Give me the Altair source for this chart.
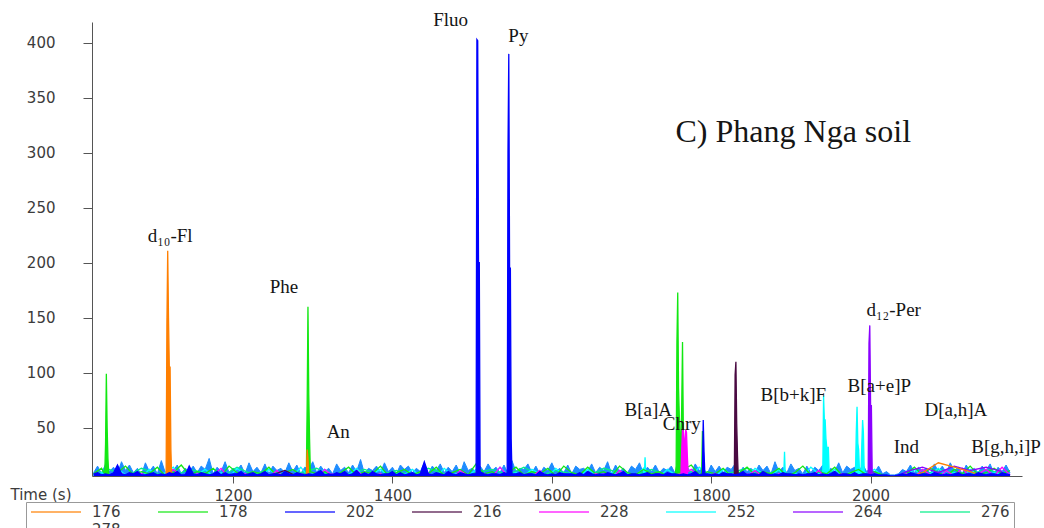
import altair as alt
import pandas as pd

# ---------------- data ----------------
ION_LABELS = ["176", "178", "202", "216", "228", "252", "264", "276", "278"]
ION_COLORS = ["#FF7F00", "#12E812", "#0000FF", "#4A0A42", "#FF00FF",
              "#00FFFF", "#8A00FF", "#00F088", "#1E8CFF"]
BAND_BACK = "278"
BAND_FRONT = "202"
MINOR_ORDER = ["276", "252", "178", "228", "264", "216", "176"]

NOISE_START = 1025

# baseline noise, one value every 5 s
noise_278 = [
    9, 15, 8, 17, 10, 14, 8, 19, 11, 16, 9, 13, 7, 18, 10, 15, 8, 20, 9, 14,
    11, 16, 8, 13, 10, 15, 9, 15, 12, 22, 8, 14, 10, 19, 9, 13, 11, 16, 8, 18,
    10, 14, 9, 17, 8, 15, 11, 13, 9, 18, 10, 16, 8, 14, 12, 19, 9, 15, 10, 13,
    8, 17, 11, 14, 9, 16, 10, 21, 8, 13, 11, 15, 9, 18, 10, 14, 8, 16, 12, 15,
    9, 13, 10, 18, 8, 15, 11, 17, 9, 14, 10, 16, 8, 19, 11, 13, 9, 15, 10, 17,
    11, 14, 9, 16, 8, 20, 10, 13, 12, 17, 9, 15, 8, 14, 11, 18, 10, 13, 9, 16,
    8, 15, 12, 13, 10, 17, 9, 14, 11, 19, 8, 16, 10, 13, 9, 15, 12, 18, 8, 14,
    10, 16, 9, 13, 11, 15, 8, 18, 10, 14, 9, 17, 11, 13, 8, 16, 10, 15, 9, 14,
    12, 17, 8, 14, 10, 13, 9, 16, 11, 15, 8, 19, 10, 14, 9, 17, 11, 13, 8, 15,
    9, 14, 11, 16, 8, 13, 10, 18, 9, 15, 12, 14, 8, 17, 10, 13, 9, 15, 8, 10,
    7, 7, 8, 12, 10, 16, 9, 14, 11, 13, 8, 17, 10, 15, 9, 18, 11, 14, 8, 16,
    10, 13, 9, 15, 11, 17, 8, 14, 10, 16, 9,
]
noise_202 = [
    8, 9, 7, 8, 7, 9, 16, 8, 7, 9, 8, 10, 7, 7, 8, 9, 7, 8, 7, 9,
    8, 10, 7, 7, 15, 8, 7, 9, 8, 7, 8, 10, 7, 9, 7, 8, 8, 10, 7, 8,
    9, 7, 8, 10, 7, 8, 8, 7, 10, 8, 7, 9, 8, 7, 8, 7, 9, 11, 7, 8,
    7, 9, 8, 10, 7, 8, 11, 7, 9, 7, 10, 8, 7, 8, 8, 10, 7, 9, 7, 8,
    9, 7, 8, 19, 8, 7, 9, 8, 7, 10, 8, 7, 9, 8, 7, 8, 7, 10, 8, 7,
    8, 8, 7, 9, 7, 10, 8, 9, 7, 8, 8, 7, 10, 8, 7, 8, 7, 9, 8, 8,
    8, 7, 9, 7, 10, 8, 7, 8, 7, 9, 8, 7, 8, 10, 7, 8, 8, 7, 8, 9,
    7, 8, 8, 7, 9, 8, 8, 7, 8, 7, 8, 10, 7, 8, 8, 7, 8, 7, 9, 8,
    8, 7, 8, 10, 7, 8, 8, 7, 10, 8, 7, 8, 7, 9, 8, 8, 7, 8, 7, 8,
    8, 9, 7, 8, 7, 8, 10, 7, 8, 8, 7, 9, 7, 8, 8, 7, 8, 7, 7, 7,
    6, 6, 7, 8, 7, 9, 8, 7, 8, 8, 7, 9, 8, 7, 8, 7, 8, 9, 7, 8,
    8, 7, 9, 8, 7, 8, 8, 7, 9, 8, 7,
]
# one value every 10 s
noise_178 = [
    8, 13, 6, 9, 15, 7, 10, 8, 14, 6, 9, 16, 7, 10, 8, 13, 6, 15, 9, 7,
    10, 8, 14, 6, 9, 12, 7, 16, 8, 10, 6, 9, 14, 7, 10, 8, 15, 6, 9, 12,
    7, 10, 8, 14, 6, 9, 12, 7, 17, 8, 10, 6, 9, 14, 7, 10, 8, 13, 6, 15,
    9, 7, 14, 8, 10, 6, 15, 9, 7, 12, 8, 10, 6, 14, 9, 16, 7, 10, 8, 13,
    6, 9, 14, 7, 10, 8, 13, 6, 9, 15, 7, 10, 8, 14, 6, 9, 12, 7, 10, 7,
    5, 5, 8, 14, 7, 13, 9, 6, 12, 8, 15, 7, 9, 13, 8, 11,
]
noise_252 = [
    6, 9, 5, 13, 7, 8, 5, 12, 6, 9, 14, 5, 8, 7, 12, 6, 9, 5, 13, 7,
    8, 5, 12, 7, 9, 6, 14, 5, 8, 12, 6, 9, 7, 13, 5, 8, 12, 6, 9, 7,
    12, 6, 8, 5, 13, 7, 9, 6, 12, 8, 5, 14, 7, 9, 6, 12, 8, 5, 13, 7,
    9, 6, 12, 8, 5, 9, 7, 9, 6, 13, 8, 5, 12, 7, 9, 6, 14, 8, 5, 12,
    7, 9, 5, 13, 8, 6, 12, 7, 9, 5, 14, 8, 6, 12, 7, 9, 5, 8, 12, 6,
    5, 4, 7, 12, 6, 8, 13, 7, 9, 5, 12, 8, 6, 9, 7, 8,
]
noise_228 = [
    5, 7, 4, 11, 6, 3, 8, 5, 7, 4, 12, 6, 3, 8, 5, 7, 13, 4, 6, 8,
    4, 7, 5, 11, 3, 6, 8, 5, 4, 12, 6, 7, 3, 11, 5, 6, 8, 4, 7, 5,
    6, 4, 8, 5, 7, 3, 11, 6, 4, 8, 5, 14, 6, 4, 7, 5, 11, 3, 6, 8,
    5, 7, 4, 8, 6, 3, 11, 5, 7, 4, 6, 8, 3, 7, 5, 12, 4, 6, 8, 5,
    7, 4, 6, 11, 5, 3, 8, 6, 4, 7, 5, 11, 3, 6, 8, 4, 7, 5, 6, 4,
    4, 3, 8, 5, 12, 7, 4, 11, 6, 13, 5, 8, 12, 6, 14, 7,
]
# one value every 20 s
noise_276 = [
    7, 12, 5, 13, 8, 6, 12, 9, 5, 14, 7, 12, 6, 9, 13, 5, 8, 12, 7, 11,
    6, 13, 8, 5, 9, 12, 7, 14, 6, 11, 8, 5, 13, 9, 7, 12, 6, 12, 8, 5,
    9, 13, 7, 11, 6, 8, 12, 5, 9, 7, 4, 8, 6, 12, 9, 7, 12, 8,
]
noise_264 = [
    4, 6, 3, 7, 5, 4, 8, 3, 6, 5, 4, 7, 3, 6, 5, 8, 4, 3, 6, 5,
    7, 4, 3, 6, 8, 5, 4, 7, 3, 6, 5, 4, 8, 6, 3, 5, 7, 4, 6, 3,
    5, 8, 4, 6, 3, 5, 7, 4, 6, 8, 3, 10, 14, 9, 15, 11, 14, 10,
]
noise_216 = [
    3, 5, 2, 6, 4, 3, 8, 4, 2, 5, 3, 6, 11, 4, 3, 5, 2, 7, 4, 3,
    5, 6, 2, 4, 3, 7, 5, 3, 4, 6, 2, 5, 3, 8, 4, 2, 6, 3, 5, 4,
    2, 6, 3, 5, 7, 4, 3, 6, 2, 5, 2, 3, 6, 2, 4, 5, 3, 4,
]
noise_176 = [
    3, 4, 2, 5, 3, 2, 6, 3, 4, 2, 5, 3, 2, 4, 6, 3, 2, 5, 3, 4,
    2, 6, 3, 2, 4, 3, 5, 2, 4, 3, 2, 5, 3, 4, 2, 6, 3, 2, 4, 3,
    5, 2, 4, 3, 2, 5, 3, 4, 2, 6, 2, 4, 9, 18, 14, 10, 5, 3,
]

NOISE = {
    "278": (5, noise_278), "202": (5, noise_202),
    "178": (10, noise_178), "252": (10, noise_252), "228": (10, noise_228),
    "276": (20, noise_276), "264": (20, noise_264), "216": (20, noise_216),
    "176": (20, noise_176),
}

# peaks: (times, intensities) per cluster
PEAKS = {
    "176": [
        ([1116, 1117, 1118, 1119, 1120, 1121, 1122, 1123], [4, 145, 211, 150, 105, 105, 30, 4]),
        ([1292, 1293, 1294, 1295], [4, 30, 22, 4]),
    ],
    "178": [
        ([1039, 1040, 1041, 1042, 1043, 1044], [8, 35, 99, 50, 22, 8]),
        ([1292, 1293, 1294, 1295, 1296, 1297], [8, 72, 160, 80, 40, 10]),
        ([1755, 1756, 1757, 1758, 1759, 1760, 1761, 1762, 1763, 1764, 1765, 1766],
         [8, 15, 129, 173, 86, 60, 40, 30, 70, 128, 50, 12]),
        ([1788, 1789, 1790, 1791], [8, 47, 20, 8]),
    ],
    "202": [
        ([1505, 1506, 1507, 1508, 1509, 1510], [8, 403, 402, 200, 200, 10]),
        ([1544, 1545, 1546, 1547, 1548, 1549, 1550], [8, 302, 390, 195, 195, 40, 8]),
        ([1789, 1790, 1791, 1792], [8, 57, 28, 8]),
    ],
    "216": [
        ([1829, 1830, 1831, 1832, 1833, 1834], [5, 98, 110, 54, 25, 5]),
    ],
    "228": [
        ([1762, 1763, 1764, 1765, 1766, 1767, 1768, 1769, 1770, 1771],
         [8, 30, 48, 47, 20, 40, 48, 46, 25, 10]),
        ([1830, 1831, 1832], [8, 29, 8]),
    ],
    "252": [
        ([1716, 1717, 1718], [6, 23, 6]),
        ([1891, 1892, 1893], [6, 28, 6]),
        ([1940, 1941, 1942, 1943, 1944, 1945, 1946, 1947, 1948],
         [8, 79, 57, 57, 40, 32, 32, 32, 10]),
        ([1981, 1982, 1983, 1984, 1985, 1986, 1988, 1989, 1990, 1991, 1992],
         [8, 45, 69, 36, 30, 12, 10, 35, 57, 45, 10]),
    ],
    "264": [
        ([1997, 1998, 1999, 2000, 2001, 2002], [8, 127, 143, 70, 70, 10]),
    ],
}

LABEL_TEXT = ["d\u2081\u2080-Fl", "Phe", "An", "Fluo", "Py", "B[a]A", "Chry",
              "B[b+k]F", "B[a+e]P", "d\u2081\u2082-Per", "Ind", "D[a,h]A", "B[g,h,i]P"]
LABEL_T = [1121, 1264, 1332, 1473, 1558, 1721, 1763, 1903, 2011, 2029, 2045, 2107, 2170]
LABEL_V = [224, 178, 46, 421, 406, 66, 53, 80, 88, 157, 32, 66, 32]

PANEL_TITLE = ["C) Phang Nga soil"]
PANEL_T = [1903]
PANEL_V = [319]

X_TICKS = [1200, 1400, 1600, 1800, 2000]
Y_TICKS = [50, 100, 150, 200, 250, 300, 350, 400]
Y_FLOOR = 6

# ---------------- assemble ----------------
rows = []
for ion in ION_LABELS:
    step, vals = NOISE[ion]
    clusters = PEAKS.get(ion, [])
    windows = [(min(ts), max(ts)) for ts, vs in clusters]
    pts = []
    for i, v in enumerate(vals):
        t = NOISE_START + i * step
        if any(a <= t <= b for a, b in windows):
            continue
        pts.append((t, v, -1))
    for k, (ts, vs) in enumerate(clusters):
        pts.extend((t, v, k) for t, v in zip(ts, vs))
    pts.sort()
    for t, v, k in pts:
        rows.append({"ion": ion, "t": t, "v": v, "cl": k})
df = pd.DataFrame(rows)

labels_df = pd.DataFrame({"t": LABEL_T, "v": LABEL_V, "text": LABEL_TEXT})
title_df = pd.DataFrame({"t": PANEL_T, "v": PANEL_V, "text": PANEL_TITLE})

x_scale = alt.Scale(domain=[1023, 2190], nice=False, zero=False)
y_scale = alt.Scale(domain=[Y_FLOOR, 419], nice=False, zero=False)
color_scale = alt.Scale(domain=ION_LABELS, range=ION_COLORS)

AX_COL = "#3c3c3c"
x_axis = alt.Axis(values=X_TICKS, format="d", grid=False, domainColor="#555555",
                  tickColor="#555555", tickSize=7, labelFont="DejaVu Sans",
                  labelFontSize=15, labelColor=AX_COL, labelPadding=5, labelFlush=False,
                  title="Time (s)", titleFont="DejaVu Sans", titleFontSize=15,
                  titleFontWeight="normal", titleColor=AX_COL, titleX=-82, titleY=18,
                  titleAlign="left", titleBaseline="middle", titleAnchor="start")
y_axis = alt.Axis(values=Y_TICKS, grid=False, domainColor="#555555", tickColor="#555555",
                  tickSize=9, labelFont="DejaVu Sans", labelFontSize=15, labelColor=AX_COL,
                  labelPadding=28, title=None)

legend = alt.Legend(orient="none", legendX=-66, legendY=480, direction="horizontal",
                    columns=8, symbolType="stroke", symbolSize=2500, symbolStrokeWidth=2,
                    symbolOpacity=0.6, clipHeight=12, labelFont="DejaVu Sans",
                    labelFontSize=15, labelColor=AX_COL, labelOffset=10, columnPadding=36,
                    rowPadding=3, padding=4, strokeColor="#999999", title=None)

X_ENC = alt.X("t:Q", scale=x_scale, axis=x_axis)
Y_ENC = alt.Y("v:Q", scale=y_scale, axis=y_axis, stack=None)
C_ENC = alt.Color("ion:N", scale=color_scale, legend=legend)


def full_series(ion, line_width):
    base = alt.Chart(df).transform_filter(alt.datum.ion == ion)
    area = base.mark_area(clip=True, opacity=1).encode(
        x=X_ENC, y=Y_ENC, y2=alt.datum(Y_FLOOR), color=C_ENC)
    line = base.mark_line(clip=True, strokeWidth=line_width).encode(
        x=X_ENC, y=Y_ENC, color=C_ENC)
    return [area, line]


def minor_series(ion):
    base = alt.Chart(df).transform_filter(alt.datum.ion == ion)
    line = base.mark_line(clip=True, strokeWidth=1.3).encode(
        x=X_ENC, y=Y_ENC, color=C_ENC)
    peak_area = base.transform_filter(alt.datum.cl >= 0).mark_area(clip=True, opacity=1).encode(
        x=X_ENC, y=Y_ENC, y2=alt.datum(Y_FLOOR), color=C_ENC, detail="cl:N")
    return [line, peak_area]


layers = full_series(BAND_BACK, 1.0)
for ion in MINOR_ORDER:
    layers += minor_series(ion)
layers += full_series(BAND_FRONT, 1.3)

text_layer = alt.Chart(labels_df).mark_text(
    font="Liberation Serif", fontSize=19, color="#151515", align="center", baseline="middle"
).encode(x=X_ENC, y=Y_ENC, text="text:N")
title_layer = alt.Chart(title_df).mark_text(
    font="Liberation Serif", fontSize=32, color="#151515", align="center", baseline="middle"
).encode(x=X_ENC, y=Y_ENC, text="text:N")

chart = alt.layer(*layers, text_layer, title_layer).properties(
    width=930, height=454,
    autosize=alt.AutoSizeParams(type="none"),
    padding={"left": 92, "top": 22, "right": 22, "bottom": 52},
).configure(background="white").configure_view(stroke=None)

chart.save("out.html", embed_options={"renderer": "svg", "actions": False})
